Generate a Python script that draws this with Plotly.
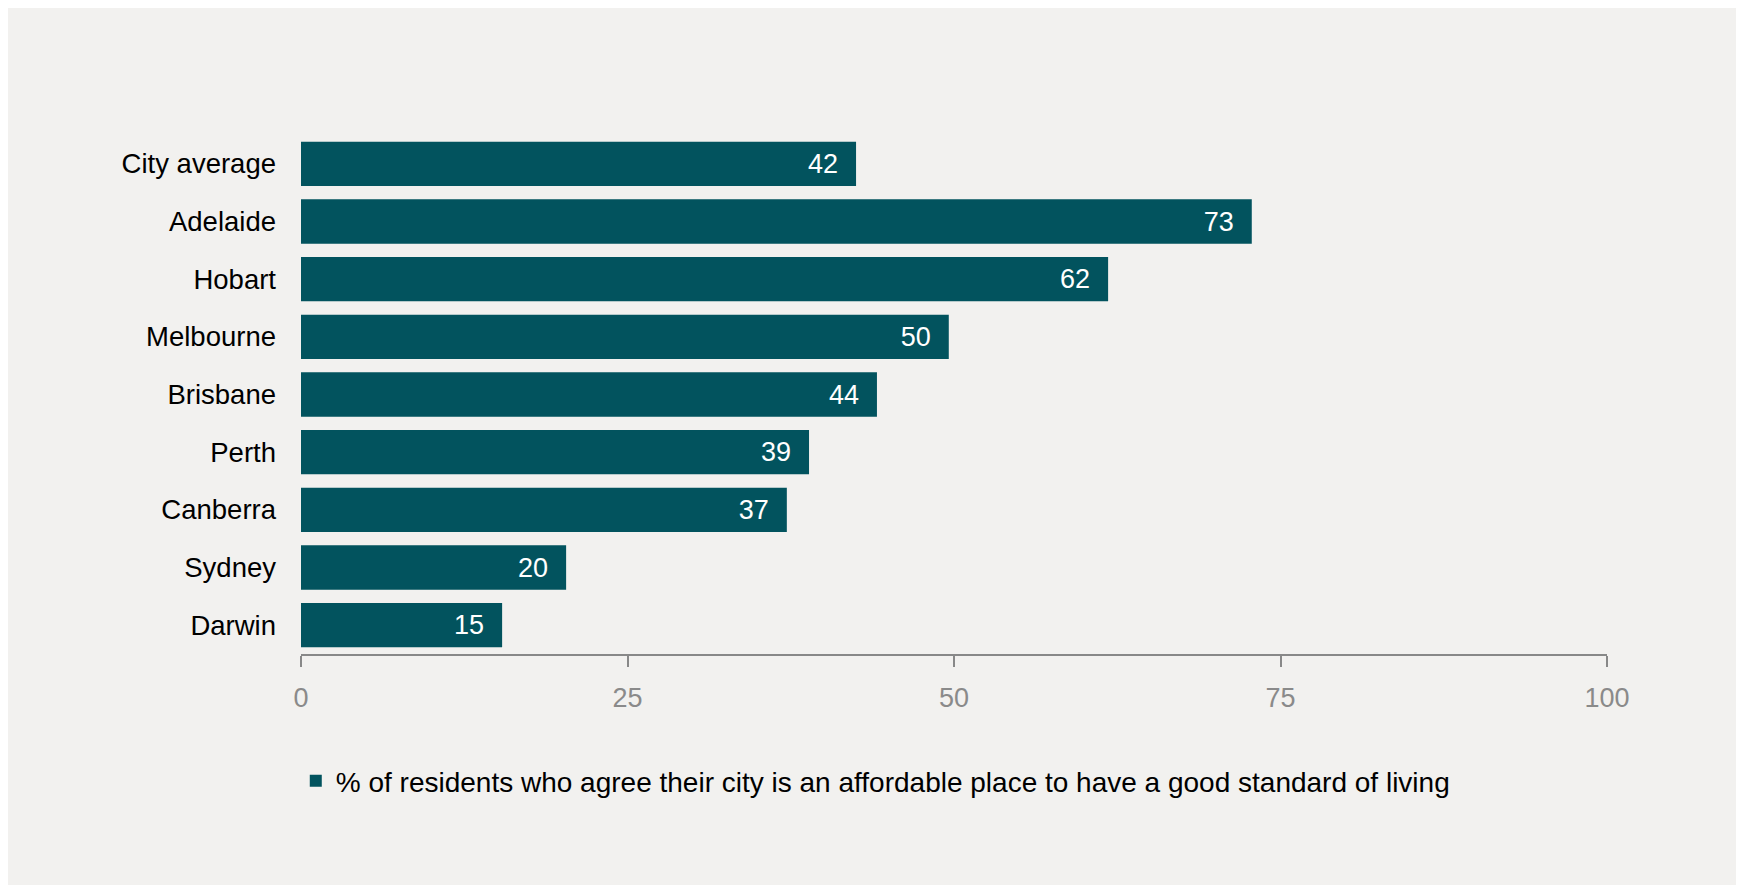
import plotly.graph_objects as go

categories = ["City average", "Adelaide", "Hobart", "Melbourne", "Brisbane",
              "Perth", "Canberra", "Sydney", "Darwin"]
values = [42.5, 72.8, 61.8, 49.6, 44.1, 38.9, 37.2, 20.3, 15.4]
labels = ["42", "73", "62", "50", "44", "39", "37", "20", "15"]
series_name = "% of residents who agree their city is an affordable place to have a good standard of living"
x_ticks = [0, 25, 50, 75, 100]

BAR = "#02535E"
BG = "#F2F1EF"
FONT = "Liberation Sans, Arial, sans-serif"

fig = go.Figure()
fig.add_trace(go.Bar(
    y=categories,
    x=values,
    orientation="h",
    name=series_name,
    marker=dict(color=BAR, line=dict(width=0)),
    text=[l + "\u00a0\u00a0" for l in labels],
    textposition="inside",
    insidetextanchor="end",
    textfont=dict(color="white", size=27, family=FONT),
    constraintext="none",
    showlegend=True,
))

fig.update_layout(
    width=1744, height=885,
    paper_bgcolor=BG, plot_bgcolor=BG,
    margin=dict(l=293, r=145, t=127, b=239),
    bargap=0.23,
    font=dict(family=FONT, color="#000000"),
    xaxis=dict(
        range=[0, 100], tickvals=x_ticks, showgrid=False, zeroline=False,
        showline=True, linecolor="#888888", linewidth=2,
        ticks="outside", ticklen=11, tickwidth=2, tickcolor="#888888",
        tickfont=dict(size=27, color="#8A8A8A", family=FONT),
        ticklabelstandoff=8,
    ),
    yaxis=dict(
        categoryorder="array", categoryarray=categories, autorange="reversed",
        showgrid=False, zeroline=False, showline=False, ticks="",
        tickfont=dict(size=27.5, color="#000000", family=FONT),
        ticklabelstandoff=24,
    ),
    legend=dict(
        orientation="h", x=-0.004, xanchor="left", y=-0.245, yanchor="middle",
        font=dict(size=28, color="#000000", family=FONT),
        bgcolor="rgba(0,0,0,0)", itemwidth=30,
    ),
)

fig.write_html("out.html")
